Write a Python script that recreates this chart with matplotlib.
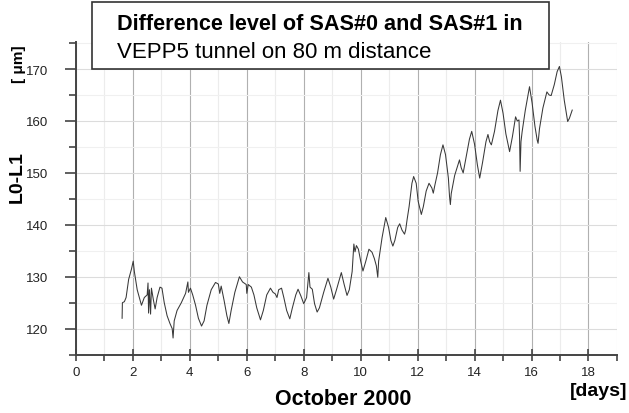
import numpy as np
import matplotlib
matplotlib.use('Agg')
import matplotlib.pyplot as plt
from matplotlib.patches import Rectangle
from matplotlib.ticker import MultipleLocator

plt.rcParams['font.family'] = ['Liberation Sans', 'DejaVu Sans']

days = [1.62, 1.63, 1.70, 1.76, 1.85, 1.95, 2.01, 2.05, 2.15, 2.30,
        2.40, 2.50, 2.53, 2.55, 2.58, 2.62, 2.65, 2.72, 2.78, 2.85,
        2.95, 3.02, 3.10, 3.20, 3.30, 3.38, 3.41, 3.45, 3.55, 3.70,
        3.85, 3.93, 3.95, 4.02, 4.10, 4.20, 4.30, 4.41, 4.50, 4.60,
        4.75, 4.90, 5.00, 5.05, 5.10, 5.20, 5.30, 5.37, 5.45, 5.58,
        5.74, 5.85, 5.98, 6.00, 6.05, 6.16, 6.25, 6.35, 6.48, 6.58,
        6.70, 6.83, 6.92, 7.00, 7.06, 7.12, 7.22, 7.30, 7.40, 7.51,
        7.60, 7.72, 7.80, 7.90, 8.00, 8.10, 8.18, 8.22, 8.30, 8.38,
        8.47, 8.55, 8.70, 8.85, 8.95, 9.05, 9.15, 9.32, 9.42, 9.52,
        9.60, 9.70, 9.76, 9.80, 9.85, 9.92, 10.00, 10.08, 10.18, 10.29,
        10.40, 10.48, 10.55, 10.60, 10.63, 10.75, 10.88, 10.98, 11.06, 11.13,
        11.20, 11.30, 11.37, 11.45, 11.54, 11.58, 11.63, 11.70, 11.80, 11.86,
        11.95, 12.02, 12.13, 12.20, 12.30, 12.40, 12.50, 12.55, 12.60, 12.70,
        12.80, 12.89, 12.98, 13.08, 13.12, 13.15, 13.18, 13.30, 13.47, 13.53,
        13.60, 13.72, 13.82, 13.90, 14.00, 14.10, 14.18, 14.28, 14.40, 14.47,
        14.53, 14.59, 14.70, 14.82, 14.91, 15.00, 15.10, 15.23, 15.33, 15.44,
        15.50, 15.56, 15.58, 15.60, 15.63, 15.67, 15.78, 15.93, 16.02, 16.12,
        16.20, 16.23, 16.28, 16.40, 16.54, 16.62, 16.69, 16.80, 16.90, 16.98,
        17.05, 17.15, 17.27, 17.33, 17.43]

diff = [122.0, 125.0, 125.2, 126.0, 129.5, 131.5, 133.0, 131.0, 127.5, 124.5,
        126.0, 126.5, 128.8, 123.0, 127.5, 122.8, 127.8, 125.5, 123.8, 126.0,
        128.0, 127.8, 125.0, 122.5, 121.0, 120.0, 118.2, 121.5, 123.5, 125.0,
        126.8, 129.0, 127.0, 127.8, 126.5, 124.5, 122.0, 120.5, 121.5, 124.5,
        127.5, 128.9, 128.6, 126.8, 128.2, 125.5, 122.5, 121.0, 123.5, 127.0,
        130.0, 129.0, 128.5, 126.8, 128.5, 128.0, 126.5, 124.0, 121.7, 123.5,
        126.5, 127.8, 127.0, 126.7, 126.0, 127.5, 127.8, 126.0, 123.5, 121.9,
        124.0, 126.5, 127.6, 126.3, 124.8, 126.0, 130.8, 128.0, 127.6, 124.8,
        123.2, 124.0, 127.0, 129.7, 128.0, 125.7, 127.5, 130.8, 128.5, 126.4,
        127.5, 131.0, 136.3, 134.8, 136.0, 135.3, 133.0, 131.1, 133.0, 135.3,
        134.7, 133.5, 132.1, 129.9, 133.0, 137.5, 141.4, 139.5, 137.0, 135.9,
        137.0, 139.5, 140.2, 139.0, 138.2, 139.0, 141.0, 143.5, 148.0, 149.3,
        148.0, 144.5, 142.0, 143.5, 146.5, 148.0, 147.1, 146.1, 147.5, 150.0,
        153.5, 155.4, 153.5, 149.0, 145.5, 143.9, 146.0, 149.5, 152.5, 151.0,
        150.0, 153.5, 156.5, 158.0, 155.5, 151.5, 149.0, 152.0, 156.0, 157.4,
        156.0, 155.4, 158.0, 162.0, 164.0, 161.5, 157.5, 154.1, 157.0, 160.8,
        160.0, 160.2, 157.0, 150.3, 156.0, 157.9, 162.0, 166.6, 163.5, 159.0,
        156.3, 155.7, 158.5, 162.5, 165.6, 165.0, 164.9, 167.0, 169.5, 170.5,
        168.5, 164.0, 159.9, 160.5, 162.1]

fig = plt.figure(figsize=(6.29, 4.14), dpi=100)
ax = fig.add_axes([0.1208, 0.141, 0.86, 0.755])

ax.plot(days, diff, color='#383838', lw=0.75)

ax.set_xlim(0, 19)
ax.set_ylim(115, 175.2)
ax.xaxis.set_minor_locator(MultipleLocator(1))
ax.yaxis.set_minor_locator(MultipleLocator(5))
ax.set_xticks([0, 2, 4, 6, 8, 10, 12, 14, 16, 18])
ax.set_yticks([120, 130, 140, 150, 160, 170])

ax.grid(True, which='major', axis='x', color='#b0b0b0', lw=0.8)
ax.grid(True, which='minor', axis='x', color='#ececec', lw=0.8)
ax.grid(True, which='major', axis='y', color='#dcdcdc', lw=0.8)
ax.grid(True, which='minor', axis='y', color='#f0f0f0', lw=0.8)
ax.set_axisbelow(True)

for s in ['top', 'right']:
    ax.spines[s].set_visible(False)
for s in ['left', 'bottom']:
    ax.spines[s].set_color('#444444')
    ax.spines[s].set_linewidth(1.4)

ax.tick_params(axis='x', which='major', direction='inout', length=8, width=1.2,
               colors='#444444', labelcolor='#222222', labelsize=9.5, pad=4)
ax.tick_params(axis='x', which='minor', direction='out', length=4, width=1.2, colors='#444444')
ax.tick_params(axis='y', which='major', direction='out', length=8, width=1.2,
               colors='#444444', labelcolor='#222222', labelsize=9.5, pad=12)
ax.tick_params(axis='y', which='minor', direction='out', length=5, width=1.2, colors='#444444')

fig.text(0.546, 0.034, 'October 2000', fontsize=15.5, fontweight='bold', ha='center', va='center')
fig.text(0.951, 0.055, '[days]', fontsize=14, fontweight='bold', ha='center', va='center')
fig.text(0.028, 0.572, 'L0-L1', fontsize=14, fontweight='bold', rotation=90, ha='center', va='center')
fig.text(0.030, 0.845, '[ \u03bcm]', fontsize=11, fontweight='bold', rotation=90, ha='center', va='center')

fig.patches.append(Rectangle((0.146, 0.831), 0.727, 0.162, transform=fig.transFigure,
                             facecolor='white', edgecolor='#333333', lw=1.2, zorder=5))
fig.text(0.186, 0.94, 'Difference level of SAS#0 and SAS#1 in', fontsize=15.6,
         fontweight='bold', ha='left', va='center', zorder=6)
fig.text(0.186, 0.874, 'VEPP5 tunnel on 80 m distance', fontsize=16,
         ha='left', va='center', zorder=6)

plt.savefig('out.png', dpi=100)
